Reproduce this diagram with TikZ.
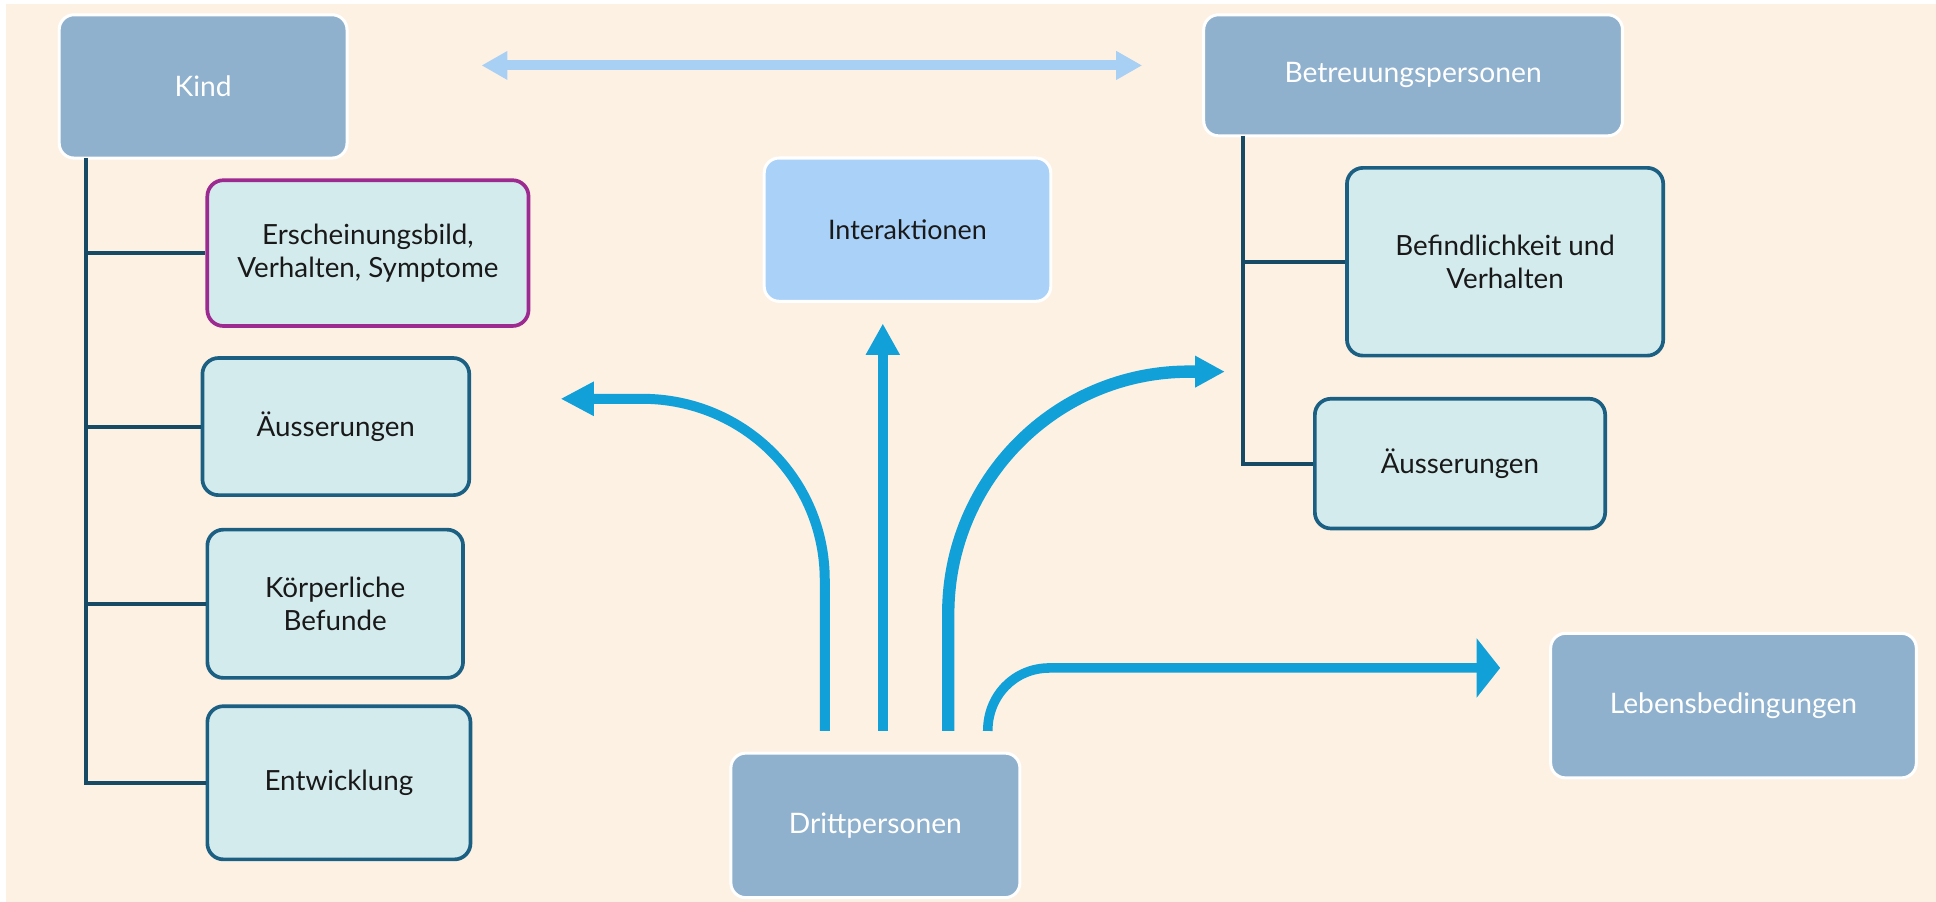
\documentclass[tikz,border=0pt]{standalone}
\usepackage{fontspec}
\setmainfont{Lato}
\usetikzlibrary{arrows.meta}
\definecolor{hintergrund}{HTML}{FDF1E3}
\definecolor{boxblau}{HTML}{8FB1CD}
\definecolor{boxhell}{HTML}{D4EBEE}
\definecolor{interblau}{HTML}{AAD1F7}
\definecolor{randblau}{HTML}{1B5F82}
\definecolor{astblau}{HTML}{174A65}
\definecolor{lila}{HTML}{9C2A90}
\definecolor{pfeilblau}{HTML}{12A0D8}
\definecolor{doppelblau}{HTML}{A8CFF4}
\tikzset{hauptbox/.style={draw=white, line width=0.7pt, fill=boxblau, rounded corners=0.12cm, text=white, inner sep=0pt, align=center, font=\fontsize{6.5}{7.7}\selectfont}}
\tikzset{unterbox/.style={draw=randblau, line width=0.85pt, fill=boxhell, rounded corners=0.13cm, text=black!90, inner sep=0pt, align=center, font=\fontsize{6.4}{7.5}\selectfont}}
\tikzset{ast/.style={draw=astblau, line width=0.9pt}}
\tikzset{pfeil/.style={draw=pfeilblau, line width=2.3pt}}

\begin{document}
\begin{tikzpicture}[x=0.01cm, y=-0.01cm]
\fill[white] (0,0) rectangle (1568,730.5);
\fill[hintergrund] (5,3) rectangle (1568,730.5);
\useasboundingbox (0,0) rectangle (1568,730.5);
% Hauptknoten
\node[hauptbox, minimum width=2.33cm, minimum height=1.16cm] (kind) at (164.5,70) {Kind};
\node[hauptbox, minimum width=3.39cm, minimum height=0.98cm] (betreuung) at (1144.5,61) {Betreuungspersonen};
\node[hauptbox, fill=interblau, text=black!90, minimum width=2.32cm, minimum height=1.16cm, font=\fontsize{6.2}{7.5}\selectfont] (inter) at (735,186) {Interaktionen};
\node[hauptbox, minimum width=2.96cm, minimum height=1.17cm] (leben) at (1404,571.5) {Lebensbedingungen};
\node[hauptbox, minimum width=2.34cm, minimum height=1.17cm] (dritt) at (709,668.5) {Drittpersonen};
% Kind
\node[unterbox, draw=lila, minimum width=2.60cm, minimum height=1.18cm] (ersch) at (298,205) {Erscheinungsbild,\\Verhalten, Symptome};
\node[unterbox, minimum width=2.16cm, minimum height=1.11cm] (aeussk) at (272,345.5) {Äusserungen};
\node[unterbox, minimum width=2.07cm, minimum height=1.20cm] (koerper) at (271.5,489) {Körperliche\\Befunde};
\node[unterbox, minimum width=2.13cm, minimum height=1.24cm] (entw) at (274.5,634) {Entwicklung};
% Betreuungspersonen
\node[unterbox, minimum width=2.56cm, minimum height=1.52cm] (befind) at (1219,212) {Befindlichkeit und\\Verhalten};
\node[unterbox, minimum width=2.35cm, minimum height=1.05cm] (aeussb) at (1182.5,375.5) {Äusserungen};
\coordinate (kindwurzel) at (70,128);
\coordinate (betrwurzel) at (1007,110);
\foreach \z in {ersch, aeussk, koerper, entw}
  \draw[ast] (kindwurzel) |- (\z.west);
\foreach \z in {befind, aeussb}
  \draw[ast] (betrwurzel) |- (\z.west);
% Pfeile
\coordinate (links) at (390,53);
\coordinate (rechts) at (925,53);
\draw[draw=doppelblau, line width=2.3pt, {Triangle[length=0.21cm, width=0.22cm]}-{Triangle[length=0.21cm, width=0.22cm]}] (links) -- (rechts);
\coordinate (d1) at (668,592);
\coordinate (d2) at (715,592);
\coordinate (d3) at (768,592);
\coordinate (d4) at (800,592);
\coordinate (z1) at (454,323);
\coordinate (z2) at (715,262);
\coordinate (z3) at (992,301);
\coordinate (z4) at (1215,541);
\draw[pfeil, -{Triangle[length=0.27cm, width=0.26cm]}] (d1) -- (668,470) .. controls (668,388) and (602,323) .. (520,323) -- (z1);
\draw[pfeil, -{Triangle[length=0.255cm, width=0.26cm]}] (d2) -- (z2);
\draw[pfeil, line width=2.85pt, -{Triangle[length=0.24cm, width=0.24cm]}] (d3) -- (768,497) .. controls (768,389) and (855,301) .. (963,301) -- (z3);
\draw[pfeil, line width=2.2pt, -{Triangle[length=0.19cm, width=0.47cm]}] (d4) .. controls (800,563) and (822,541) .. (850,541) -- (z4);
\end{tikzpicture}
\end{document}
